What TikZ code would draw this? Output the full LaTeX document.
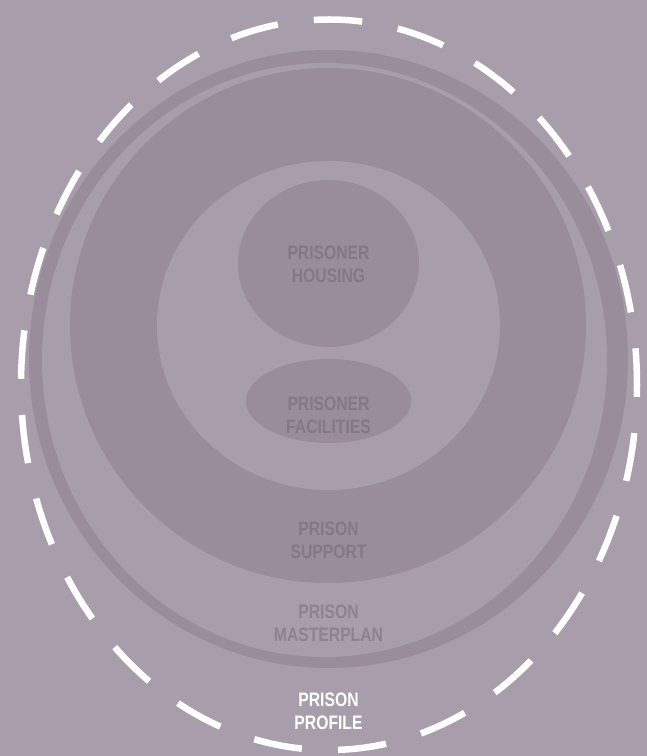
\documentclass[tikz,border=0pt]{standalone}
\usepackage{fontspec}
\newfontfamily\lblfont{Liberation Sans Bold}[FakeStretch=0.805]
\definecolor{bglight}{RGB}{168,157,170}
\definecolor{ringdark}{RGB}{153,141,155}
\definecolor{lbldim}{RGB}{132,120,135}
\definecolor{lbldimlight}{RGB}{142,130,145}
\tikzset{
  darkfill/.style={fill=ringdark, draw=none},
  lightfill/.style={fill=bglight, draw=none},
  lbl/.style={font=\lblfont\fontsize{19.5}{23}\selectfont, align=center, inner sep=0pt, color=lbldim},
  lbllight/.style={lbl, color=lbldimlight},
  lblwhite/.style={lbl, color=white},
  dashring/.style={draw=white, line width=6.5pt, dash pattern=on 48.5pt off 36.26pt, dash phase=12pt}
}
\begin{document}
\begin{tikzpicture}[x=1pt,y=1pt]
\useasboundingbox (0,0) rectangle (647,756);
\fill[bglight] (0,0) rectangle (647,756);
% outer masterplan border
\path[darkfill] (328.5,397) ellipse [x radius=299.5, y radius=309];
% masterplan light area
\path[lightfill] (324.5,396) ellipse [x radius=282.5, y radius=297];
% prison support
\path[darkfill] (328,430.5) ellipse [x radius=258, y radius=257.5];
% inner light area
\path[lightfill] (328.5,430.5) ellipse [x radius=171.5, y radius=164.5];
% housing and facilities
\path[darkfill] (328.5,492.5) ellipse [x radius=90.5, y radius=83.5];
\path[darkfill] (328.5,355) ellipse [x radius=82.5, y radius=42];
% labels
\node[lbl] (housing) at (328.5,492) {PRISONER\\HOUSING};
\node[lbl] (facilities) at (328.5,340.5) {PRISONER\\FACILITIES};
\node[lbl] (support) at (328.5,215.5) {PRISON\\SUPPORT};
\node[lbllight] (masterplan) at (328.5,132.5) {PRISON\\MASTERPLAN};
\node[lblwhite] (profile) at (328.5,45) {PRISON\\PROFILE};
% dashed profile ring
\draw[dashring] (329,371.25) ellipse [x radius=308, y radius=365.25];
\end{tikzpicture}
\end{document}
